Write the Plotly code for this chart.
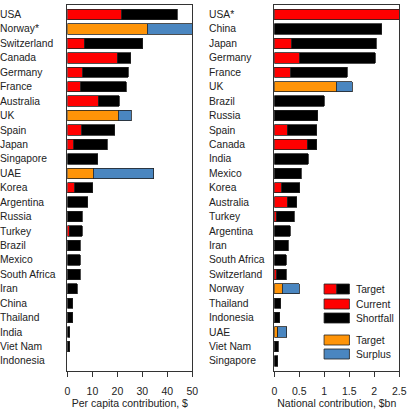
import plotly.graph_objects as go

# ---------------- data ----------------
pc_countries = ["USA", "Norway*", "Switzerland", "Canada", "Germany", "France", "Australia", "UK",
                "Spain", "Japan", "Singapore", "UAE", "Korea", "Argentina", "Russia", "Turkey",
                "Brazil", "Mexico", "South Africa", "Iran", "China", "Thailand", "India", "Viet Nam",
                "Indonesia"]
pc_current = [21.7, 55.0, 6.8, 20.0, 6.1, 5.3, 12.4, 25.5,
              5.7, 2.6, 0, 34.5, 2.9, 0, 0, 0.7,
              0, 0, 0, 0, 0, 0, 0, 0,
              0]
pc_target = [43.9, 32.0, 30.2, 25.3, 24.3, 23.6, 20.7, 20.4,
             19.0, 15.9, 12.1, 10.3, 10.2, 8.1, 6.0, 5.9,
             5.1, 5.1, 5.1, 4.0, 2.1, 2.1, 1.0, 1.0,
             0]

nat_countries = ["USA*", "China", "Japan", "Germany", "France", "UK", "Brazil", "Russia",
                 "Spain", "Canada", "India", "Mexico", "Korea", "Australia", "Turkey", "Argentina",
                 "Iran", "South Africa", "Switzerland", "Norway", "Thailand", "Indonesia", "UAE",
                 "Viet Nam", "Singapore"]
nat_current = [2.6, 0, 0.35, 0.51, 0.33, 1.56, 0, 0,
               0.26, 0.66, 0, 0, 0.15, 0.26, 0.04, 0,
               0, 0, 0.05, 0.50, 0, 0, 0.25,
               0, 0]
nat_target = [3.0, 2.15, 2.04, 2.02, 1.46, 1.24, 1.00, 0.87,
              0.85, 0.85, 0.68, 0.54, 0.51, 0.45, 0.40, 0.32,
              0.28, 0.24, 0.24, 0.16, 0.13, 0.11, 0.07,
              0.08, 0.07]

pc_ticks = [0, 10, 20, 30, 40, 50]
nat_ticks = [0, 0.5, 1, 1.5, 2, 2.5]
nat_ticktext = ["0", "0.5", "1", "1.5", "2", "2.5"]

RED, BLACK, ORANGE, BLUE = "#ff0000", "#000000", "#ff9408", "#4a86c0"
OUTLINE = "#222222"
FONT = "Liberation Sans, Arial, sans-serif"
W, H = 415, 410


def split(cur, tgt):
    red, blk, org, blu = [], [], [], []
    for c, t in zip(cur, tgt):
        if c > t:
            red.append(None); blk.append(None)
            org.append(t if t > 0 else None); blu.append(c - t)
        else:
            red.append(c if c > 0 else None)
            blk.append(t - c if t - c > 0 else None)
            org.append(None); blu.append(None)
    return red, blk, org, blu


fig = go.Figure()


def add_panel(countries, cur, tgt, xa, ya):
    red, blk, org, blu = split(cur, tgt)
    for vals, col in [(red, RED), (blk, BLACK), (org, ORANGE), (blu, BLUE)]:
        fig.add_trace(go.Bar(
            y=countries, x=vals, orientation="h", width=0.72,
            marker=dict(color=col, line=dict(color=OUTLINE, width=0.8)),
            xaxis=xa, yaxis=ya, showlegend=False, hoverinfo="skip"))


add_panel(pc_countries, pc_current, pc_target, "x", "y")
add_panel(nat_countries, nat_current, nat_target, "x2", "y2")


def px_x(p):
    return p / W


def px_y(p):
    return 1 - p / H


ytop, ybot = 5, 370.5
axis_common = dict(showline=True, linecolor="#333", linewidth=1, mirror=True,
                   showgrid=False, zeroline=False)

fig.update_layout(
    width=W, height=H, margin=dict(l=0, r=0, t=0, b=0),
    paper_bgcolor="white", plot_bgcolor="white",
    barmode="stack", bargap=0.28,
    font=dict(family=FONT, size=10, color="#222"),
    xaxis=dict(domain=[px_x(66), px_x(194)], range=[0, 50], tickvals=pc_ticks,
               ticks="outside", ticklen=5, tickcolor="#333", ticklabelstandoff=6,
               tickfont=dict(size=10.5),
               title=dict(text="Per capita contribution, $", standoff=2,
                          font=dict(size=10.5)),
               anchor="y", **axis_common),
    yaxis=dict(domain=[px_y(ybot), px_y(ytop)], categoryorder="array",
               categoryarray=pc_countries, autorange=False,
               range=[len(pc_countries) - 0.34, -0.66],
               showticklabels=False, ticks="", anchor="x", **axis_common),
    xaxis2=dict(domain=[px_x(278), px_x(406)], range=[0, 2.5], tickvals=nat_ticks,
                ticktext=nat_ticktext,
                ticks="outside", ticklen=5, tickcolor="#333", ticklabelstandoff=6,
                tickfont=dict(size=10.5),
                title=dict(text="National contribution, $bn", standoff=2,
                           font=dict(size=10.5)),
                anchor="y2", **axis_common),
    yaxis2=dict(domain=[px_y(ybot), px_y(ytop)], categoryorder="array",
                categoryarray=nat_countries, autorange=False,
                range=[len(nat_countries) - 0.34, -0.66],
                showticklabels=False, ticks="", anchor="x2", **axis_common),
)

# left-aligned category labels
annotations = []
for c in pc_countries:
    annotations.append(dict(x=px_x(-3), xref="paper", y=c, yref="y", text=c,
                            showarrow=False, xanchor="left", yanchor="middle",
                            borderpad=0, borderwidth=0,
                            font=dict(size=10.3, color="#222")))
for c in nat_countries:
    annotations.append(dict(x=px_x(211.5), xref="paper", y=c, yref="y2", text=c,
                            showarrow=False, xanchor="left", yanchor="middle",
                            borderpad=0, borderwidth=0,
                            font=dict(size=10.3, color="#222")))

# custom legend
legend_rows = [
    (289, [(RED, 329, 342), (BLACK, 342, 355)], "Target"),
    (304, [(RED, 329, 355)], "Current"),
    (318, [(BLACK, 329, 355)], "Shortfall"),
    (340, [(ORANGE, 329, 355)], "Target"),
    (354, [(BLUE, 329, 355)], "Surplus"),
]
shapes = []
for yc, parts, label in legend_rows:
    for col, x0, x1 in parts:
        shapes.append(dict(type="rect", xref="paper", yref="paper",
                           x0=px_x(x0), x1=px_x(x1), y0=px_y(yc - 5), y1=px_y(yc + 5),
                           fillcolor=col, line=dict(color=OUTLINE, width=0.8)))
    annotations.append(dict(x=px_x(361.5), xref="paper", y=px_y(yc), yref="paper",
                            text=label, showarrow=False, xanchor="left",
                            yanchor="middle", borderpad=0, borderwidth=0,
                            font=dict(size=10.3, color="#222")))

fig.update_layout(annotations=annotations, shapes=shapes)
fig.write_html("out.html")
